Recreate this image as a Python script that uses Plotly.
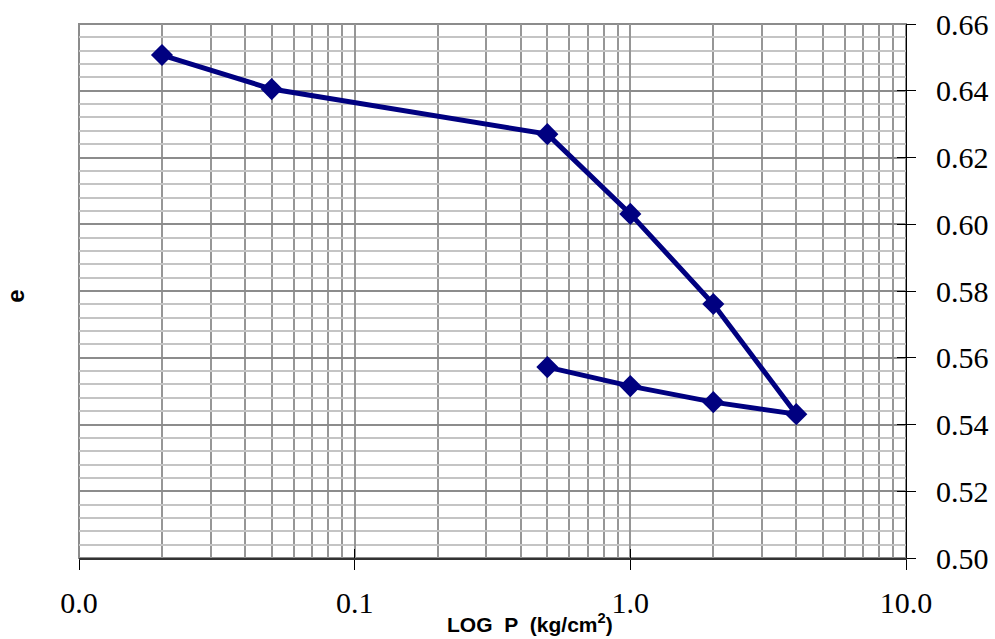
import plotly.graph_objects as go

# Data
pressure = [0.02, 0.05, 0.5, 1.0, 2.0, 4.0, 2.0, 1.0, 0.5]
void_ratio = [0.6507, 0.6405, 0.6270, 0.6031, 0.5761, 0.5431, 0.5467, 0.5515, 0.5572]

x_tick_vals = [0.01, 0.1, 1, 10]
x_tick_text = ["0.0", "0.1", "1.0", "10.0"]
y_tick_vals = [0.50, 0.52, 0.54, 0.56, 0.58, 0.60, 0.62, 0.64, 0.66]
y_tick_text = ["%.2f" % v for v in y_tick_vals]
x_minor_vals = [m * d for d in (0.01, 0.1, 1) for m in range(2, 10)]

NAVY = "#000080"
tick_font = dict(family="Liberation Serif", size=30, color="black")
title_font = dict(family="Liberation Sans", size=21, color="black")

fig = go.Figure()
fig.add_trace(go.Scatter(
    x=pressure, y=void_ratio, mode="lines+markers",
    line=dict(color=NAVY, width=5),
    marker=dict(symbol="diamond", size=17, color=NAVY),
    showlegend=False, hoverinfo="skip",
))
# helper empty trace for overlay axes (inner half of crossing ticks)
fig.add_trace(go.Scatter(x=[], y=[], xaxis="x2", yaxis="y2", showlegend=False))

fig.update_layout(
    width=995, height=639,
    margin=dict(l=79, r=89, t=24, b=81, autoexpand=False),
    paper_bgcolor="white", plot_bgcolor="white",
    xaxis=dict(
        type="log", range=[-2, 1],
        tickmode="array", tickvals=x_tick_vals, ticktext=x_tick_text,
        tickfont=tick_font, ticks="outside", ticklen=10, tickwidth=1, tickcolor="black",
        ticklabelstandoff=7,
        showgrid=True, gridcolor="#969696", gridwidth=2,
        minor=dict(tickmode="array", tickvals=x_minor_vals, showgrid=True,
                   gridcolor="#969696", gridwidth=2, ticks=""),
        showline=True, linecolor="#333333", linewidth=2,
        zeroline=False,
    ),
    yaxis=dict(
        range=[0.5, 0.66], side="right",
        tickmode="array", tickvals=y_tick_vals, ticktext=y_tick_text,
        tickfont=tick_font, ticks="outside", ticklen=9, tickwidth=1, tickcolor="black",
        ticklabelstandoff=14,
        showgrid=True, gridcolor="#8c8c8c", gridwidth=2,
        minor=dict(dtick=0.004, tick0=0.5, showgrid=True, gridcolor="#c4c4c4",
                   gridwidth=2, ticks=""),
        showline=True, linecolor="black", linewidth=1,
        zeroline=False,
    ),
    xaxis2=dict(
        type="log", range=[-2, 1], overlaying="x", anchor="y2", side="bottom",
        tickmode="array", tickvals=x_tick_vals, ticks="inside", ticklen=9,
        tickwidth=1, tickcolor="black", showticklabels=False, showgrid=False,
        showline=False, zeroline=False,
    ),
    yaxis2=dict(
        range=[0.5, 0.66], overlaying="y", anchor="x2", side="right",
        tickmode="array", tickvals=y_tick_vals, ticks="inside", ticklen=9,
        tickwidth=1, tickcolor="black", showticklabels=False, showgrid=False,
        showline=False, zeroline=False,
    ),
    shapes=[dict(type="rect", xref="paper", yref="paper", x0=0, x1=1, y0=0, y1=1,
                 line=dict(color="#8c8c8c", width=2), layer="below")],
    annotations=[
        dict(text="<b>LOG&nbsp;&nbsp;P&nbsp;&nbsp;(kg/cm<sup>2</sup>)</b>",
             xref="paper", yref="paper",
             x=0.545, y=-0.121, xanchor="center", yanchor="middle", showarrow=False,
             font=title_font),
        dict(text="<b>e</b>", xref="paper", yref="paper", x=-0.077, y=0.49,
             xanchor="center", yanchor="middle", textangle=-90, showarrow=False,
             font=dict(family="Liberation Sans", size=24, color="black")),
    ],
)

fig.write_html("out.html")
